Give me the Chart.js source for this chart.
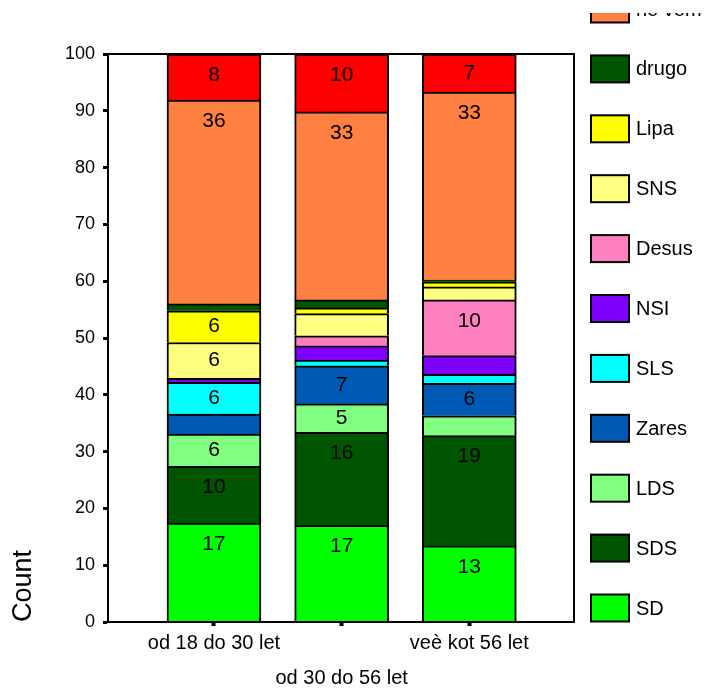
<!DOCTYPE html>
<html>
<head>
<meta charset="utf-8">
<script src="https://cdn.jsdelivr.net/npm/chart.js@4.4.0/dist/chart.umd.min.js"></script>
<style>
  body { margin: 0; background: #fff; }
  canvas { display: block; }
</style>
</head>
<body>
<canvas id="voteChart" width="709" height="689"></canvas>
<script>
const categories = ['od 18 do 30 let', 'od 30 do 56 let', 'veè kot 56 let'];
const parties = ['SD', 'SDS', 'LDS', 'Zares', 'SLS', 'NSI', 'Desus', 'SNS', 'Lipa', 'drugo', 'ne vem', 'ne bom volil'];

// percentages per age group, bottom of stack first
const sd = [17.4, 17.0, 13.4];
const sds = [10.0, 16.4, 19.4];
const lds = [5.7, 5.0, 3.5];
const zares = [3.5, 6.7, 5.7];
const sls = [5.6, 1.0, 1.6];
const nsi = [0.7, 2.5, 3.3];
const desus = [0, 1.8, 9.8];
const sns = [6.3, 3.9, 2.3];
const lipa = [5.6, 1.0, 0.9];
const drugo = [1.2, 1.4, 0.3];
const neVem = [35.9, 33.1, 33.1];
const neBomVolil = [8.1, 10.2, 6.7];

const yTicks = [0, 10, 20, 30, 40, 50, 60, 70, 80, 90, 100];

const seriesValues = [sd, sds, lds, zares, sls, nsi, desus, sns, lipa, drugo, neVem, neBomVolil];
const colors = ['#00FF00', '#005500', '#80FF80', '#005AB5', '#00FFFF', '#8000FF',
                '#FF80C0', '#FFFF80', '#FFFF00', '#005500', '#FF8040', '#FF0000'];

Chart.defaults.font.family = '"Liberation Sans", Arial, sans-serif';
Chart.defaults.color = '#000';

const datasets = parties.map((name, k) => ({
    label: name,
    data: seriesValues[k].map((v, i) => ({ x: i, y: v })),
    backgroundColor: colors[k],
    borderColor: '#000',
    borderWidth: 2,
    barThickness: 94,
}));

// box around the plot area
const frame = {
    id: 'frame',
    afterDraw(chart) {
        const { ctx, chartArea: a } = chart;
        ctx.save();
        ctx.strokeStyle = '#000';
        ctx.lineWidth = 2;
        ctx.strokeRect(a.left, a.top, a.right - a.left, a.bottom - a.top);
        ctx.restore();
    }
};

// value labels inside the larger segments
const barLabels = {
    id: 'barLabels',
    afterDatasetsDraw(chart) {
        const ctx = chart.ctx;
        ctx.save();
        ctx.font = '21px "Liberation Sans", Arial, sans-serif';
        ctx.fillStyle = '#000';
        ctx.textAlign = 'center';
        ctx.textBaseline = 'middle';
        chart.data.datasets.forEach((ds, k) => {
            chart.getDatasetMeta(k).data.forEach((bar, i) => {
                const v = ds.data[i].y;
                if (v < 4.5) return;
                const h = bar.base - bar.y;
                ctx.fillText(String(Math.round(v)), bar.x, bar.y + Math.min(21, h / 2));
            });
        });
        ctx.restore();
    }
};

// legend on the right, stacked like the bars (top entries are cut off)
const sideLegend = {
    id: 'sideLegend',
    afterDraw(chart) {
        const ctx = chart.ctx;
        ctx.save();
        ctx.beginPath();
        ctx.rect(580, 13, 129, 676);
        ctx.clip();
        ctx.font = '20px "Liberation Sans", Arial, sans-serif';
        ctx.textBaseline = 'middle';
        ctx.textAlign = 'left';
        chart.data.datasets.forEach((ds, k) => {
            const cy = 608 - k * 59.9;
            ctx.fillStyle = ds.backgroundColor;
            ctx.fillRect(591, cy - 13.5, 38, 27);
            ctx.strokeStyle = '#000';
            ctx.lineWidth = 2;
            ctx.strokeRect(591, cy - 13.5, 38, 27);
            ctx.fillStyle = '#000';
            ctx.fillText(ds.label, 636, cy + 1);
        });
        ctx.restore();
    }
};

new Chart(document.getElementById('voteChart'), {
    type: 'bar',
    data: { datasets: datasets },
    options: {
        responsive: false,
        animation: false,
        layout: { padding: { top: 54, right: 135, bottom: 0, left: 0 } },
        plugins: {
            legend: { display: false },
            tooltip: { enabled: false },
        },
        scales: {
            x: {
                type: 'linear',
                stacked: true,
                offset: false,
                min: -0.83,
                max: 2.82,
                afterBuildTicks: scale => { scale.ticks = categories.map((c, i) => ({ value: i })); },
                afterFit: scale => { scale.height = 67; },
                border: { color: '#000', width: 2 },
                grid: { offset: false, drawOnChartArea: false, tickLength: 4, tickWidth: 4, tickColor: '#000' },
                ticks: {
                    autoSkip: false,
                    maxRotation: 0,
                    padding: 0,
                    font: { size: 20, lineHeight: 1.75 },
                    callback: value => value % 2 === 1 ? ['', categories[value]] : categories[value],
                },
            },
            y: {
                stacked: true,
                min: 0,
                max: 100,
                afterBuildTicks: scale => { scale.ticks = yTicks.map(v => ({ value: v })); },
                afterFit: scale => { scale.width = 108; },
                border: { color: '#000', width: 2 },
                grid: { drawOnChartArea: false, tickLength: 5, tickWidth: 3, tickColor: '#000' },
                ticks: { padding: 8, font: { size: 18 } },
                title: {
                    display: true,
                    text: 'Count',
                    align: 'start',
                    font: { size: 27 },
                    padding: { top: 7, bottom: 0 },
                },
            },
        },
    },
    plugins: [frame, barLabels, sideLegend],
});
</script>
</body>
</html>
